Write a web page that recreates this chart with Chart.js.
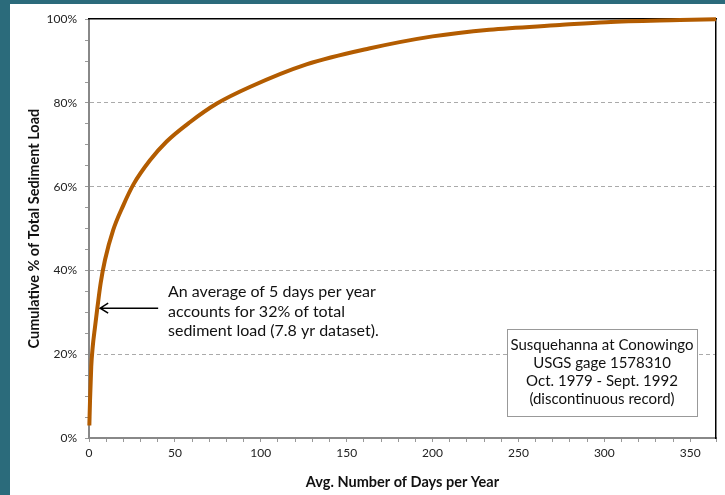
<!DOCTYPE html>
<html lang="en">
<head>
    <meta charset="UTF-8">
    <title>Cumulative Sediment Load - Susquehanna at Conowingo</title>
    <script src="https://cdn.jsdelivr.net/npm/chart.js"></script>
    <style>
        html, body { margin: 0; padding: 0; background: #2b6b7b; width: 725px; height: 495px; overflow: hidden; }
        #wrap { position: absolute; left: 10px; top: 4px; width: 715px; height: 491px; background: #fff; }
    </style>
</head>
<body>
    <div id="wrap"><canvas id="loadChart" width="715" height="491"></canvas></div>

    <script>
        // days per year (x) vs cumulative % of total sediment load (y)
        var days = [0.2, 0.6, 1.3, 2.1, 3.5, 5, 6.8, 9.3, 14.1, 19.9, 25.8, 35.5, 45.2, 58.7, 74.2, 93.6, 126.6, 163, 200, 233, 274, 301, 344, 365];
        var cumPct = [3, 9, 17, 21.5, 26.5, 31.5, 37, 42.5, 49.7, 55.5, 60.5, 66.3, 70.8, 75.4, 79.8, 83.8, 89.2, 93, 95.9, 97.5, 98.6, 99.3, 99.8, 100];

        var yTickLabels = [0, 20, 40, 60, 80, 100];
        var xTickLabels = [0, 50, 100, 150, 200, 250, 300, 350];

        var noteLines = ['An average of 5 days per year', 'accounts for 32% of total', 'sediment load (7.8 yr dataset).'];
        var boxLines = ['Susquehanna at Conowingo', 'USGS gage 1578310', 'Oct. 1979 - Sept. 1992', '(discontinuous record)'];

        Chart.defaults.font.family = 'Lato, "Open Sans", sans-serif';
        Chart.defaults.color = '#222';

        var points = days.map(function (d, i) { return { x: d, y: cumPct[i] }; });

        // annotation text, arrow and the info box
        var notes = {
            id: 'notes',
            afterDraw: function (chart) {
                var ctx = chart.ctx;
                var x = chart.scales.x, y = chart.scales.y;
                ctx.save();

                // arrow pointing at the curve
                var tipX = x.getPixelForValue(6.5), tipY = y.getPixelForValue(31);
                ctx.strokeStyle = '#000';
                ctx.lineWidth = 1.5;
                ctx.beginPath();
                ctx.moveTo(tipX + 58, tipY);
                ctx.lineTo(tipX, tipY);
                ctx.moveTo(tipX + 8, tipY - 5);
                ctx.lineTo(tipX, tipY);
                ctx.lineTo(tipX + 8, tipY + 5);
                ctx.stroke();

                ctx.fillStyle = '#111';
                ctx.font = '16px Lato, sans-serif';
                ctx.textAlign = 'left';
                ctx.textBaseline = 'middle';
                noteLines.forEach(function (t, i) {
                    ctx.fillText(t, 158, 288 + i * 19.5);
                });

                // info box
                ctx.fillStyle = '#fff';
                ctx.fillRect(497, 325, 191, 87);
                ctx.strokeStyle = '#999';
                ctx.lineWidth = 1;
                ctx.strokeRect(497.5, 325.5, 190, 87);
                ctx.fillStyle = '#111';
                ctx.font = '15px Lato, sans-serif';
                ctx.textAlign = 'center';
                boxLines.forEach(function (t, i) {
                    ctx.fillText(t, 592, 341 + i * 18);
                });
                ctx.restore();
            }
        };

        var ctx = document.getElementById('loadChart').getContext('2d');
        var loadChart = new Chart(ctx, {
            type: 'scatter',
            data: {
                datasets: [{
                    label: 'Cumulative % of load',
                    data: points,
                    showLine: true,
                    borderColor: '#b35c00',
                    borderWidth: 4,
                    pointRadius: 0,
                    cubicInterpolationMode: 'monotone',
                    clip: false
                }]
            },
            options: {
                responsive: false,
                animation: false,
                devicePixelRatio: 1,
                layout: { padding: { top: 14, right: 9, left: 0, bottom: 0 } },
                plugins: {
                    legend: { display: false },
                    tooltip: { enabled: false }
                },
                scales: {
                    x: {
                        type: 'linear',
                        min: 0,
                        max: 365,
                        afterFit: function (s) { s.height = 57; },
                        ticks: {
                            stepSize: 10,
                            autoSkip: false,
                            maxRotation: 0,
                            padding: 4,
                            font: { size: 12 },
                            callback: function (v) { return xTickLabels.indexOf(v) >= 0 ? String(v) : ''; }
                        },
                        grid: { drawOnChartArea: false, tickLength: 4, tickColor: '#999' },
                        border: { color: '#888', width: 2 },
                        title: {
                            display: true,
                            text: 'Avg. Number of Days per Year',
                            font: { size: 14.5, weight: 'bold' },
                            color: '#111',
                            padding: { top: 2 }
                        }
                    },
                    y: {
                        min: 0,
                        max: 100,
                        afterFit: function (s) { s.width = 79; },
                        ticks: {
                            stepSize: 5,
                            autoSkip: false,
                            padding: 8,
                            font: { size: 12 },
                            callback: function (v) { return yTickLabels.indexOf(v) >= 0 ? v + '%' : ''; }
                        },
                        grid: {
                            tickLength: 4,
                            tickColor: '#999',
                            color: function (c) {
                                var v = c.tick ? c.tick.value : 0;
                                return (v > 0 && v < 100 && yTickLabels.indexOf(v) >= 0) ? '#aaa' : 'rgba(0,0,0,0)';
                            }
                        },
                        border: { color: '#888', width: 2, dash: [4, 3] },
                        title: {
                            display: true,
                            text: 'Cumulative % of Total Sediment Load',
                            font: { size: 14.5, weight: 'bold' },
                            color: '#111',
                            padding: { top: 16, bottom: 0 }
                        }
                    },
                    xTop: {
                        type: 'linear',
                        position: 'top',
                        min: 0,
                        max: 365,
                        afterFit: function (s) { s.height = 0; },
                        ticks: { display: false },
                        grid: { display: false },
                        border: { color: '#000', width: 1.5 }
                    },
                    yRight: {
                        type: 'linear',
                        position: 'right',
                        min: 0,
                        max: 100,
                        afterFit: function (s) { s.width = 0; },
                        ticks: { display: false },
                        grid: { display: false },
                        border: { color: '#000', width: 1.5 }
                    }
                }
            },
            plugins: [notes]
        });
    </script>
</body>
</html>
